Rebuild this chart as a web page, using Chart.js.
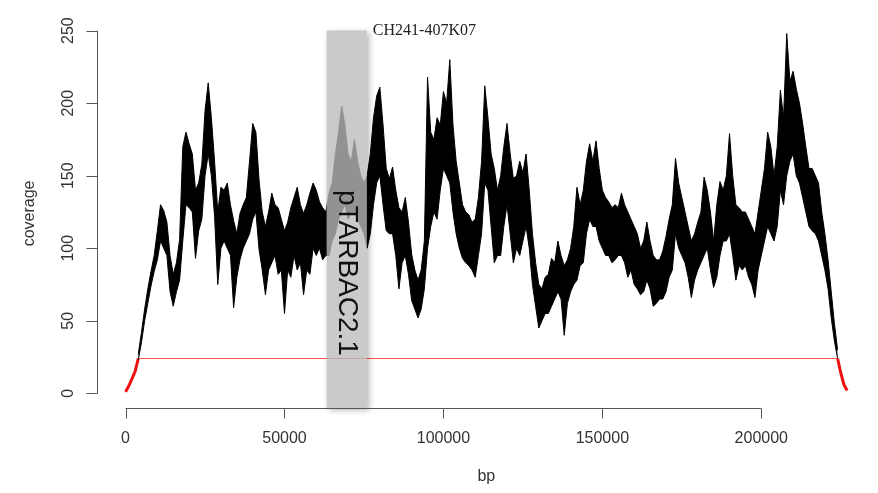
<!DOCTYPE html>
<html>
<head>
<meta charset="utf-8">
<script src="https://cdn.jsdelivr.net/npm/chart.js@4.4.1/dist/chart.umd.min.js"></script>
<style>
  html, body { margin: 0; padding: 0; background: #fff; }
  #wrap { width: 878px; height: 493px; position: relative; }
</style>
</head>
<body>
<div id="wrap"><canvas id="covChart"></canvas></div>
<script>
// coverage in 1 kb bins, first bin at 4 kb (upper / lower edge of the trace)
const binStart = 4000;
const binSize = 1000;
const covHigh = [
  27, 42, 58, 72, 84, 95, 112, 130, 126, 118,
  95, 82, 90, 106, 170, 180, 172, 165, 140, 145,
  158, 195, 214, 190, 160, 125, 142, 140, 145, 130,
  119, 110, 124, 130, 135, 160, 186, 180, 147, 125,
  115, 125, 138, 130, 128, 120, 112, 118, 128, 135,
  142, 130, 124, 130, 138, 145, 140, 132, 128, 125,
  138, 145, 165, 180, 198, 185, 165, 160, 175, 160,
  150, 145, 150, 165, 190, 205, 211, 185, 155, 148,
  156, 140, 128, 125, 135, 118, 96, 85, 78, 85,
  105, 218, 180, 175, 190, 185, 208, 200, 230, 185,
  160, 145, 130, 125, 123, 118, 120, 135, 160, 212,
  190, 165, 155, 140, 150, 170, 186, 165, 148, 150,
  160, 152, 165, 140, 110, 90, 75, 72, 80, 82,
  93, 90, 105, 95, 88, 92, 100, 115, 142, 130,
  140, 160, 172, 160, 174, 155, 140, 135, 132, 128,
  130, 128, 138, 130, 125, 120, 115, 110, 100, 105,
  118, 105, 95, 92, 92, 98, 108, 120, 130, 162,
  145, 135, 125, 115, 105, 110, 118, 125, 149, 140,
  125, 105, 130, 146, 140, 150, 179, 150, 130, 128,
  125, 125, 120, 115, 110, 125, 140, 155, 180, 170,
  150, 170, 209, 190, 248, 215, 222, 210, 200, 186,
  170, 155, 155, 150, 145, 125, 110, 92, 70, 48,
  30
];
const covLow = [
  23, 35, 50, 62, 74, 84, 92, 105, 100, 95,
  70, 60, 70, 78, 105, 130, 128, 125, 93, 112,
  120, 150, 165, 150, 122, 75, 100, 105, 100, 95,
  59, 80, 92, 100, 105, 110, 120, 125, 99, 85,
  68, 85, 90, 95, 82, 85, 55, 85, 80, 95,
  85, 90, 68, 85, 82, 100, 95, 100, 92, 95,
  95, 105, 110, 120, 125, 130, 120, 125, 125, 120,
  115, 110, 100, 110, 130, 145, 150, 130, 112, 110,
  110, 95, 72, 90, 95, 82, 64, 58, 52, 58,
  72, 100, 115, 125, 120, 140, 155, 150, 145, 125,
  110, 100, 93, 90, 88, 85, 80, 95, 110, 145,
  140, 115, 90, 95, 95, 115, 130, 110, 90, 100,
  95, 105, 115, 100, 75, 60, 45, 50, 55, 55,
  60, 65, 70, 65, 40, 62, 70, 75, 78, 88,
  90, 110, 120, 115, 115, 105, 100, 95, 95, 90,
  92, 95, 95, 90, 80, 85, 75, 72, 68, 70,
  78, 72, 60, 62, 65, 65, 70, 80, 85, 110,
  100, 95, 90, 80, 66, 78, 85, 90, 95, 100,
  85, 73, 80, 95, 105, 105, 110, 95, 78, 88,
  85, 88, 80, 75, 66, 85, 95, 105, 115, 110,
  105, 115, 140, 130, 150, 160, 165, 150, 145, 135,
  125, 115, 112, 110, 105, 95, 85, 72, 52, 36,
  24
];

// clone ends that fall under the threshold
const redLeftBp = [0, 1000, 2000, 3000, 4000];
const redLeftCov = [1, 5, 10, 15, 24];
const redRightBp = [224000, 225000, 226000, 227000];
const redRightCov = [24, 14, 6, 2];

const threshold = 24;
const thresholdBp = [4100, 224000];

const xTicks = [0, 50000, 100000, 150000, 200000];
const yTicks = [0, 50, 100, 150, 200, 250];

// vector block drawn over the plot
const vectorBp = [63300, 75900];
const vectorCov = [-10, 250];
const vectorLabel = 'pTARBAC2.1';
const cloneLabel = 'CH241-407K07';

function pts(xs, ys) {
  return xs.map((v, i) => ({ x: v, y: ys[i] }));
}
const binBp = covHigh.map((v, i) => binStart + i * binSize);

// R style axes, labels and the overlay box
const rPlot = {
  id: 'rPlot',
  afterDatasetsDraw(chart) {
    const ctx = chart.ctx;
    const x = chart.scales.x, y = chart.scales.y;

    // gray vector box with soft shadow
    const bx0 = x.getPixelForValue(vectorBp[0]);
    const bx1 = x.getPixelForValue(vectorBp[1]);
    const by0 = y.getPixelForValue(vectorCov[1]);
    const by1 = y.getPixelForValue(vectorCov[0]);
    ctx.save();
    ctx.beginPath();
    ctx.rect(0, 0, chart.width, chart.height);
    ctx.rect(bx0, by0, bx1 - bx0, by1 - by0);
    ctx.clip('evenodd');
    ctx.shadowColor = 'rgba(0,0,0,0.3)';
    ctx.shadowBlur = 6;
    ctx.shadowOffsetX = 2;
    ctx.shadowOffsetY = 2;
    ctx.fillStyle = '#bbb';
    ctx.fillRect(bx0, by0, bx1 - bx0, by1 - by0);
    ctx.restore();

    ctx.save();
    ctx.fillStyle = 'rgba(187,187,187,0.78)';
    ctx.fillRect(bx0, by0, bx1 - bx0, by1 - by0);

    ctx.fillStyle = '#111';
    ctx.font = '28px "Liberation Sans", Arial, sans-serif';
    ctx.textAlign = 'center';
    ctx.textBaseline = 'middle';
    ctx.translate((bx0 + bx1) / 2, y.getPixelForValue(83));
    ctx.rotate(Math.PI / 2);
    ctx.fillText(vectorLabel, 0, 0);
    ctx.restore();

    ctx.save();
    ctx.fillStyle = '#222';
    ctx.font = '16px "Liberation Serif", "Times New Roman", serif';
    ctx.textAlign = 'left';
    ctx.textBaseline = 'middle';
    ctx.fillText(cloneLabel, bx1 + 6, by0);
    ctx.restore();

    // axes
    const area = chart.chartArea;
    ctx.save();
    ctx.strokeStyle = '#555';
    ctx.lineWidth = 1;
    ctx.beginPath();
    const ax = Math.round(area.left) + 0.5;
    ctx.moveTo(ax, y.getPixelForValue(yTicks[0]));
    ctx.lineTo(ax, y.getPixelForValue(yTicks[yTicks.length - 1]));
    yTicks.forEach(t => {
      const py = Math.round(y.getPixelForValue(t)) + 0.5;
      ctx.moveTo(ax, py);
      ctx.lineTo(ax - 11, py);
    });
    const ay = Math.round(area.bottom) + 0.5;
    ctx.moveTo(x.getPixelForValue(xTicks[0]), ay);
    ctx.lineTo(x.getPixelForValue(xTicks[xTicks.length - 1]), ay);
    xTicks.forEach(t => {
      const px = Math.round(x.getPixelForValue(t)) + 0.5;
      ctx.moveTo(px, ay);
      ctx.lineTo(px, ay + 10);
    });
    ctx.stroke();

    ctx.fillStyle = '#333';
    ctx.font = '16px "Liberation Sans", Arial, sans-serif';
    ctx.textAlign = 'center';
    ctx.textBaseline = 'middle';
    xTicks.forEach(t => {
      ctx.fillText(String(t), x.getPixelForValue(t), ay + 30);
    });
    yTicks.forEach(t => {
      ctx.save();
      ctx.translate(ax - 29, y.getPixelForValue(t));
      ctx.rotate(-Math.PI / 2);
      ctx.fillText(String(t), 0, 0);
      ctx.restore();
    });

    // axis titles
    ctx.fillText('bp', (area.left + area.right) / 2, 477);
    ctx.save();
    ctx.translate(30, (area.top + area.bottom) / 2);
    ctx.rotate(-Math.PI / 2);
    ctx.fillText('coverage', 0, 0);
    ctx.restore();
    ctx.restore();
  }
};

new Chart(document.getElementById('covChart'), {
  type: 'line',
  data: {
    datasets: [
      {
        label: 'coverage high',
        data: pts(binBp, covHigh),
        borderColor: '#000',
        backgroundColor: '#000',
        borderWidth: 1,
        fill: '+1'
      },
      {
        label: 'coverage low',
        data: pts(binBp, covLow),
        borderColor: '#000',
        borderWidth: 1,
        fill: false
      },
      {
        label: 'threshold',
        data: pts(thresholdBp, [threshold, threshold]),
        borderColor: 'rgb(255,80,80)',
        borderWidth: 1.2,
        fill: false
      },
      {
        label: 'low left',
        data: pts(redLeftBp, redLeftCov),
        borderColor: '#f01010',
        borderWidth: 3,
        fill: false
      },
      {
        label: 'low right',
        data: pts(redRightBp, redRightCov),
        borderColor: '#f01010',
        borderWidth: 3,
        fill: false
      }
    ]
  },
  options: {
    responsive: true,
    maintainAspectRatio: false,
    animation: false,
    layout: { padding: { left: 96.7, right: 2, top: 19.2, bottom: 85.3 } },
    elements: { point: { radius: 0 }, line: { tension: 0 } },
    plugins: { legend: { display: false }, tooltip: { enabled: false } },
    scales: {
      x: { type: 'linear', min: -9080, max: 236080, display: false },
      y: { type: 'linear', min: -9.92, max: 257.9, display: false }
    }
  },
  plugins: [rPlot]
});
</script>
</body>
</html>
